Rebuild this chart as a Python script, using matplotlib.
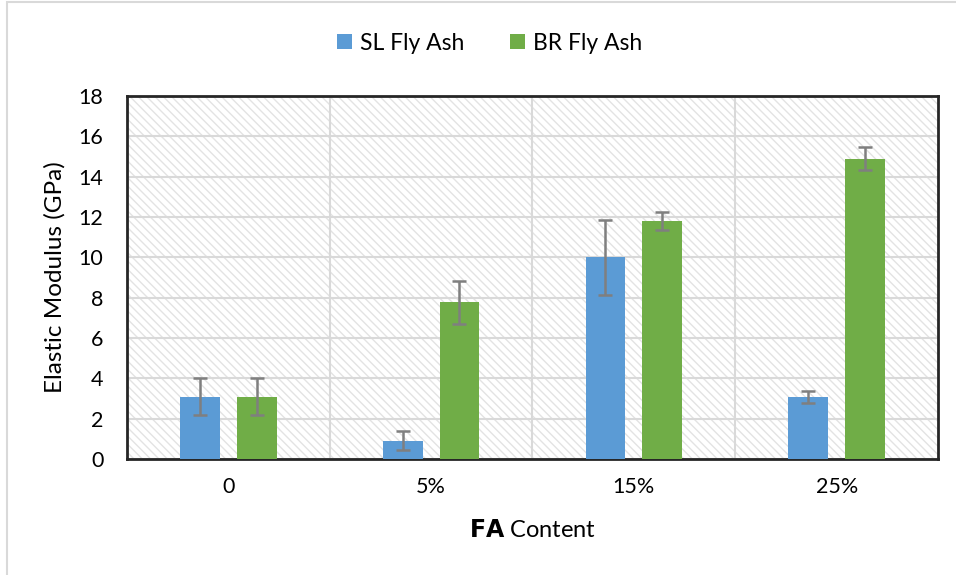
import numpy as np
import matplotlib.pyplot as plt
from matplotlib.patches import Rectangle

plt.rcParams['font.family'] = ['Lato', 'DejaVu Sans']
plt.rcParams['hatch.linewidth'] = 1.0

# data
categories = ['0', '5%', '15%', '25%']
sl_values = [3.1, 0.9, 10.0, 3.07]
sl_err = [0.9, 0.47, 1.85, 0.29]
br_values = [3.1, 7.78, 11.8, 14.9]
br_err = [0.9, 1.07, 0.43, 0.58]

fig = plt.figure(figsize=(9.56, 5.75), dpi=100)
ax = fig.add_axes([0.1328, 0.2017, 0.8484, 0.6313])

# faint figure border (top and left visible in the reference)
fig.patches.append(Rectangle((7 / 956, -0.01), 1.0, 573 / 575 + 0.01, transform=fig.transFigure,
                             fill=False, edgecolor='#d9d9d9', linewidth=1.5))

# hatched plot area
ax.add_patch(Rectangle((0, 0), 1, 1, transform=ax.transAxes, facecolor='white',
                       edgecolor='#e3e3e3', hatch='\\\\\\\\', linewidth=0, zorder=0))

x = np.arange(len(categories))
off = 0.14
w = 0.197
err_kw = dict(ecolor='#7f7f7f', elinewidth=1.8, capsize=5, capthick=1.8)
ax.bar(x - off, sl_values, w, yerr=sl_err, color='#5b9bd5', label='SL Fly Ash', zorder=3, error_kw=err_kw)
ax.bar(x + off, br_values, w, yerr=br_err, color='#70ad47', label='BR Fly Ash', zorder=3, error_kw=err_kw)

ax.set_xlim(-0.5, 3.5)
ax.set_ylim(0, 18)
ax.set_yticks(range(0, 19, 2))
ax.set_xticks(x)
ax.set_xticklabels(categories)
ax.set_xticks([0.5, 1.5, 2.5], minor=True)
ax.grid(axis='y', color='#d9d9d9', linewidth=1.5, zorder=1)
ax.grid(axis='x', which='minor', color='#d9d9d9', linewidth=1.5, zorder=1)
ax.set_axisbelow(True)
ax.tick_params(axis='both', which='both', length=0, labelsize=15.5, colors='black')
ax.tick_params(axis='x', pad=13)
ax.tick_params(axis='y', pad=17)
for s in ax.spines.values():
    s.set_color('#262626')
    s.set_linewidth(2)

ax.set_ylabel('Elastic Modulus (GPa)', fontsize=17.5, labelpad=9)
ax.set_xlabel(r'$\bf{FA}$ Content', fontsize=17, labelpad=16)

ax.legend(loc='center', bbox_to_anchor=(490 / 956, 1 - 43 / 575), bbox_transform=fig.transFigure,
          ncol=2, frameon=False, fontsize=16.5, handlelength=0.65, handleheight=0.65,
          handletextpad=0.35, columnspacing=2.0)

fig.savefig('out.png', dpi=100)
